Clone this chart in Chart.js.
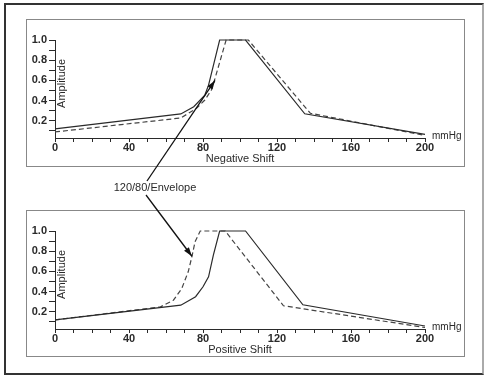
<!DOCTYPE html>
<html>
<head>
<meta charset="utf-8">
<script src="https://cdn.jsdelivr.net/npm/chart.js@4.4.0/dist/chart.umd.min.js"></script>
<style>
  html, body { margin: 0; padding: 0; background: #fff; }
  body { width: 489px; height: 378px; position: relative; overflow: hidden; }
  #frame { position: absolute; left: 4px; top: 3px; width: 480px; height: 372px; box-sizing: border-box;
           border: 2px solid #333; border-right-color: #aaa; }
  .panel { position: absolute; left: 26px; width: 439px; box-sizing: border-box; border: 1px solid #888; }
  canvas { position: absolute; }
  #overlay { left: 0; top: 0; pointer-events: none; }
</style>
</head>
<body>
<div id="frame"></div>
<div class="panel" style="top:19px;height:148px"></div>
<div class="panel" style="top:210px;height:147px"></div>
<canvas id="negChart" width="439" height="148" style="left:26px;top:19px"></canvas>
<canvas id="posChart" width="439" height="147" style="left:26px;top:210px"></canvas>
<canvas id="overlay" width="489" height="378"></canvas>
<script>
// 데이터
const xTickLabels = [0, 40, 80, 120, 160, 200];
const yTickLabels = ['0.2', '0.4', '0.6', '0.8', '1.0'];

// Negative Shift
const negSolidX = [0, 68, 75, 81, 83, 89, 103, 135, 200];
const negSolidY = [0.12, 0.268, 0.34, 0.455, 0.553, 1.0, 1.0, 0.27, 0.065];
const negDashX = [0, 68, 76.5, 81, 84.5, 86.5, 92.5, 104.5, 138, 200];
const negDashY = [0.09, 0.228, 0.324, 0.406, 0.504, 0.62, 1.0, 1.0, 0.275, 0.055];

// Positive Shift
const posSolidX = [0, 68, 76, 80, 83, 85.6, 89, 103, 134, 200];
const posSolidY = [0.12, 0.266, 0.35, 0.448, 0.547, 0.762, 1.0, 1.0, 0.27, 0.06];
const posDashX = [0, 57, 64, 68.5, 72, 74, 75.7, 78.5, 92, 123.5, 200];
const posDashY = [0.12, 0.249, 0.315, 0.43, 0.596, 0.745, 0.894, 1.0, 1.0, 0.26, 0.045];

const FONT = '"Liberation Sans", Arial, sans-serif';
const INK = '#2a2a2a';

const toPoints = (xs, ys) => xs.map((x, i) => ({ x, y: ys[i] }));

// 축 안쪽 글자 (Amplitude, mmHg, 아래 제목)
const textPlugin = {
  id: 'panelText',
  afterDraw(chart, args, opts) {
    const { ctx, chartArea } = chart;
    ctx.save();
    ctx.fillStyle = INK;
    ctx.font = '11px ' + FONT;
    // Amplitude
    ctx.save();
    ctx.translate(chartArea.left + 7, chart.scales.y.getPixelForValue(0.57));
    ctx.rotate(-Math.PI / 2);
    ctx.textAlign = 'center';
    ctx.textBaseline = 'middle';
    ctx.fillText('Amplitude', 0, 0);
    ctx.restore();
    // title
    ctx.textAlign = 'center';
    ctx.textBaseline = 'middle';
    ctx.fillText(opts.title, (chartArea.left + chartArea.right) / 2, chartArea.bottom + 21);
    // mmHg
    ctx.font = '10px ' + FONT;
    ctx.textAlign = 'left';
    ctx.fillText('mmHg', chartArea.right + 7, chartArea.bottom - 2);
    ctx.restore();
  },
};

function makePanel(id, solidX, solidY, dashX, dashY, title) {
  const ctx = document.getElementById(id).getContext('2d');
  return new Chart(ctx, {
    type: 'line',
    data: {
      datasets: [
        { data: toPoints(solidX, solidY), borderColor: INK, borderWidth: 1.2, pointRadius: 0, tension: 0, clip: false },
        { data: toPoints(dashX, dashY), borderColor: '#444', borderWidth: 1.2, borderDash: [5, 3], pointRadius: 0, tension: 0, clip: false },
      ],
    },
    plugins: [textPlugin],
    options: {
      responsive: false,
      animation: false,
      devicePixelRatio: 1,
      layout: { padding: { top: 21, right: 40, left: 0, bottom: 0 } },
      plugins: {
        legend: { display: false },
        tooltip: { enabled: false },
        panelText: { title },
      },
      scales: {
        x: {
          type: 'linear',
          min: 0,
          max: 200,
          afterFit: (s) => { s.height = s.chart.height - 21 - 98; },
          afterBuildTicks: (s) => { s.ticks = Array.from({ length: 21 }, (_, i) => ({ value: i * 10 })); },
          border: { display: true, color: INK, width: 1 },
          grid: { drawOnChartArea: false, drawTicks: true, tickLength: 4, color: INK },
          ticks: {
            autoSkip: false,
            maxRotation: 0,
            padding: -1,
            color: INK,
            font: { family: FONT, size: 11, weight: 'bold' },
            callback: (v) => (xTickLabels.includes(v) ? String(v) : ''),
          },
        },
        y: {
          min: 0.03,
          max: 1.0,
          afterFit: (s) => { s.width = 29; },
          afterBuildTicks: (s) => { s.ticks = Array.from({ length: 10 }, (_, i) => ({ value: (i + 1) / 10 })); },
          border: { display: true, color: INK, width: 1 },
          grid: { drawOnChartArea: false, drawTicks: true, tickLength: 6, color: INK },
          ticks: {
            autoSkip: false,
            padding: 2,
            color: INK,
            font: { family: FONT, size: 11, weight: 'bold' },
            callback: (v) => {
              const s = v.toFixed(1);
              return yTickLabels.includes(s) ? s : '';
            },
          },
        },
      },
    },
  });
}

const negChart = makePanel('negChart', negSolidX, negSolidY, negDashX, negDashY, 'Negative Shift');
const posChart = makePanel('posChart', posSolidX, posSolidY, posDashX, posDashY, 'Positive Shift');

// 화살표 + 라벨 (두 차트를 가로지름)
function tipOf(chart, x, y) {
  const c = chart.canvas;
  return {
    x: c.offsetLeft + chart.scales.x.getPixelForValue(x),
    y: c.offsetTop + chart.scales.y.getPixelForValue(y),
  };
}

function arrow(ctx, from, to) {
  ctx.beginPath();
  ctx.moveTo(from.x, from.y);
  ctx.lineTo(to.x, to.y);
  ctx.stroke();
  const a = Math.atan2(to.y - from.y, to.x - from.x);
  const len = 9, w = 3;
  ctx.beginPath();
  ctx.moveTo(to.x, to.y);
  ctx.lineTo(to.x - len * Math.cos(a) + w * Math.sin(a), to.y - len * Math.sin(a) - w * Math.cos(a));
  ctx.lineTo(to.x - len * Math.cos(a) - w * Math.sin(a), to.y - len * Math.sin(a) + w * Math.cos(a));
  ctx.closePath();
  ctx.fill();
}

const ov = document.getElementById('overlay').getContext('2d');
ov.strokeStyle = '#111';
ov.fillStyle = '#111';
ov.lineWidth = 1.3;
arrow(ov, { x: 147, y: 181 }, tipOf(negChart, 86.5, 0.6));
arrow(ov, { x: 146, y: 195 }, tipOf(posChart, 74, 0.75));
ov.font = '11px ' + FONT;
ov.fillStyle = INK;
ov.textAlign = 'center';
ov.textBaseline = 'middle';
ov.fillText('120/80/Envelope', 155, 188);
</script>
</body>
</html>
